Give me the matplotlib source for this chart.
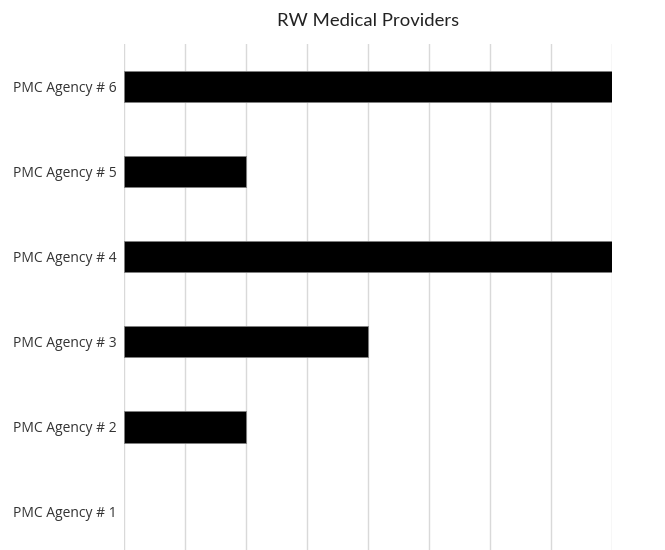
import matplotlib
matplotlib.use("Agg")
import matplotlib.pyplot as plt

agencies = ["PMC Agency # 1", "PMC Agency # 2", "PMC Agency # 3",
            "PMC Agency # 4", "PMC Agency # 5", "PMC Agency # 6"]
providers = [0, 2, 4, 8, 2, 8]

fig = plt.figure(figsize=(6.65, 5.5), dpi=100)
ax = fig.add_axes([0.1865, -0.008, 0.7338, 0.928])

# thin grey outline only on bars that actually have a length
edges = ["#808080" if v > 0 else "none" for v in providers]
ax.barh(range(len(agencies)), providers, height=0.37, color="black",
        edgecolor=edges, linewidth=0.6, zorder=3)

ax.set_xlim(0, 8)
ax.set_ylim(-0.5, len(agencies) - 0.5)
ax.set_xticks(range(0, 9))
ax.set_xticklabels([])
ax.tick_params(axis="x", length=0)
ax.tick_params(axis="y", length=0, pad=5, labelsize=10, labelcolor="#333333")
ax.set_yticks(range(len(agencies)))
ax.set_yticklabels(agencies, fontfamily="Open Sans")
ax.grid(axis="x", color="#d9d9d9", linewidth=1, zorder=0)
for side in ax.spines.values():
    side.set_visible(False)

fig.text(0.554, 0.962, "RW Medical Providers", ha="center", va="center",
         fontsize=13.3, fontfamily="Lato", color="#222222")

fig.savefig("out.png", dpi=100)
